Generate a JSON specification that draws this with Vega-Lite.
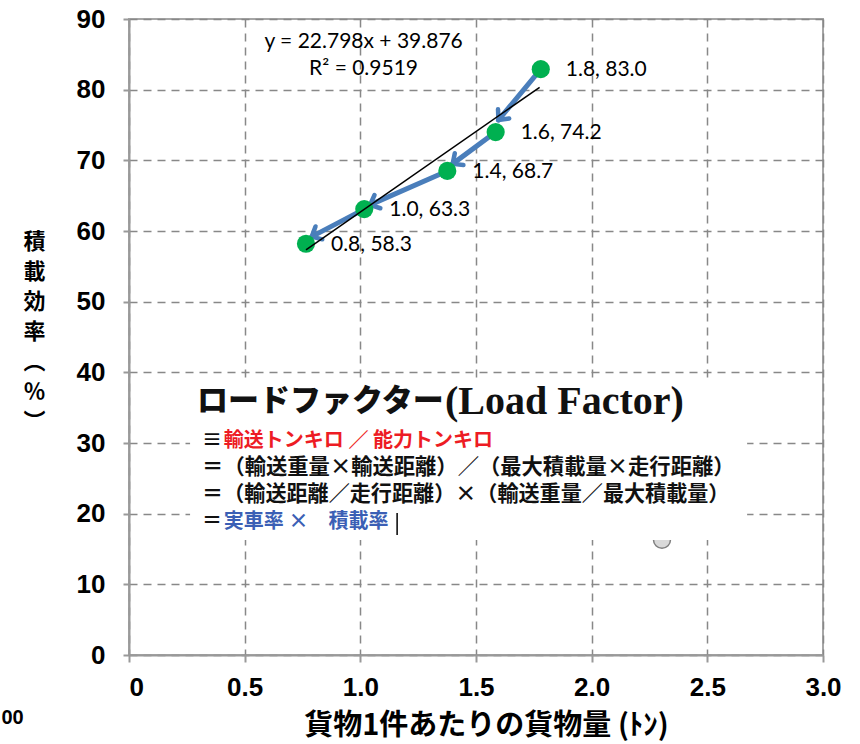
{
  "$schema": "https://vega.github.io/schema/vega-lite/v6.json",
  "width": 694,
  "height": 636,
  "autosize": {"type": "none"},
  "padding": {"left": 129, "top": 19, "right": 37, "bottom": 89},
  "background": "white",
  "config": {
    "view": {"stroke": "#a6a6a6", "strokeWidth": 2},
    "font": "Liberation Sans",
    "axis": {
      "labelFont": "Liberation Sans", "labelFontWeight": "bold", "labelFontSize": 26, "labelColor": "black",
      "tickColor": "#999999", "tickWidth": 2,
      "domainColor": "#999999", "domainWidth": 2,
      "grid": true, "gridDash": [8, 6], "gridColor": "#888888", "gridWidth": 1.5,
      "titleColor": "black", "titleFont": "Noto Sans CJK JP", "titleFontWeight": "bold"
    },
    "axisX": {"labelPadding": 12, "labelFlush": false, "tickSize": 7},
    "axisY": {"labelPadding": 18, "tickSize": 6}
  },
  "datasets": {
    "pts": [
      {"x": 1.78, "y": 82.9, "label": "1.8, 83.0"},
      {"x": 1.585, "y": 74.0, "label": "1.6, 74.2"},
      {"x": 1.376, "y": 68.5, "label": "1.4, 68.7"},
      {"x": 1.017, "y": 63.1, "label": "1.0, 63.3"},
      {"x": 0.765, "y": 58.2, "label": "0.8, 58.3"}
    ],
    "arrows": [
      {"x": 1.78, "y": 82.9, "x2": 1.597, "y2": 75.7},
      {"x": 1.585, "y": 74.0, "x2": 1.399, "y2": 69.5},
      {"x": 1.376, "y": 68.5, "x2": 1.042, "y2": 63.7},
      {"x": 1.017, "y": 63.1, "x2": 0.79, "y2": 59.2}
    ],
    "trend": [
      {"x": 0.765, "y": 57.32},
      {"x": 1.775, "y": 80.34}
    ],
    "marker": [
      {"x": 2.304, "y": 16.3}
    ],
    "one": [
      {"k": 1}
    ]
  },
  "layer": [
    {
      "data": {"name": "marker"},
      "mark": {"type": "point", "shape": "circle", "filled": true, "fill": "#d9d9d9", "stroke": "#7f7f7f", "strokeWidth": 1.5, "size": 289, "opacity": 1},
      "encoding": {
        "x": {
          "field": "x", "type": "quantitative",
          "scale": {"domain": [0, 3], "nice": false, "zero": false},
          "axis": {
            "title": "貨物1件あたりの貨物量 (ﾄﾝ)",
            "values": [0, 0.5, 1, 1.5, 2, 2.5, 3],
            "labelExpr": "datum.value == 0 ? '0' : format(datum.value, '.1f')",
            "labelAlign": {"condition": {"test": "datum.value == 0", "value": "left"}, "value": "center"},
            "titleFontSize": 29,
            "titleX": 357, "titleY": 70, "titleBaseline": "middle", "titleAlign": "center"
          }
        },
        "y": {
          "field": "y", "type": "quantitative",
          "scale": {"domain": [0, 90], "nice": false},
          "axis": {
            "title": ["積", "載", "効", "率", "︵", "％", "︶"],
            "titleAngle": 0, "titleLineHeight": 30, "titleFontSize": 22,
            "titleX": -95, "titleY": 212, "titleAlign": "center", "titleBaseline": "top",
            "values": [0, 10, 20, 30, 40, 50, 60, 70, 80, 90]
          }
        }
      }
    },
    {
      "data": {"name": "one"},
      "mark": {"type": "rect", "fill": "white"},
      "encoding": {
        "x": {"datum": 0.264, "type": "quantitative"},
        "x2": {"datum": 2.672},
        "y": {"datum": 16.27, "type": "quantitative"},
        "y2": {"datum": 38.77}
      }
    },
    {
      "data": {"name": "arrows"},
      "mark": {"type": "rule", "color": "#4A7EBB", "strokeWidth": 5, "strokeCap": "round"},
      "encoding": {
        "x": {"field": "x", "type": "quantitative"},
        "y": {"field": "y", "type": "quantitative"},
        "x2": {"field": "x2"},
        "y2": {"field": "y2"}
      }
    },
    {
      "data": {"name": "arrows"},
      "transform": [
        {"calculate": "atan2(-(datum.y2 - datum.y) * 7.067, (datum.x2 - datum.x) * 231.3) * 180 / PI", "as": "ang"}
      ],
      "mark": {"type": "point", "shape": "M -1 -0.9 L 0 0 L -1 0.9", "filled": false, "stroke": "#4A7EBB", "strokeWidth": 4.5, "strokeCap": "round", "strokeJoin": "round", "size": 260, "opacity": 1},
      "encoding": {
        "x": {"field": "x2", "type": "quantitative"},
        "y": {"field": "y2", "type": "quantitative"},
        "angle": {"field": "ang", "type": "quantitative", "scale": null}
      }
    },
    {
      "data": {"name": "pts"},
      "mark": {"type": "point", "shape": "circle", "filled": true, "color": "#00B050", "size": 330, "opacity": 1},
      "encoding": {
        "x": {"field": "x", "type": "quantitative"},
        "y": {"field": "y", "type": "quantitative"}
      }
    },
    {
      "data": {"name": "trend"},
      "mark": {"type": "line", "color": "black", "strokeWidth": 1.5},
      "encoding": {
        "x": {"field": "x", "type": "quantitative"},
        "y": {"field": "y", "type": "quantitative"}
      }
    },
    {
      "data": {"name": "pts"},
      "mark": {"type": "text", "align": "left", "baseline": "middle", "dx": 25, "dy": 1, "font": "Lato", "fontSize": 21, "color": "black"},
      "encoding": {
        "x": {"field": "x", "type": "quantitative"},
        "y": {"field": "y", "type": "quantitative"},
        "text": {"field": "label"}
      }
    },
    {
      "data": {"name": "one"},
      "mark": {"type": "text", "align": "center", "baseline": "middle", "font": "Lato", "fontSize": 21, "color": "black"},
      "encoding": {
        "x": {"datum": 1.014, "type": "quantitative"},
        "y": {"datum": 86.8, "type": "quantitative"},
        "text": {"value": "y = 22.798x + 39.876"}
      }
    },
    {
      "data": {"name": "one"},
      "mark": {"type": "text", "align": "center", "baseline": "middle", "font": "Lato", "fontSize": 21, "color": "black"},
      "encoding": {
        "x": {"datum": 1.014, "type": "quantitative"},
        "y": {"datum": 82.9, "type": "quantitative"},
        "text": {"value": "R² = 0.9519"}
      }
    },
    {
      "data": {"name": "one"},
      "mark": {"type": "text", "align": "left", "baseline": "middle", "font": "Noto Sans CJK JP", "fontWeight": 900, "fontSize": 31, "color": "#111111"},
      "encoding": {
        "x": {"datum": 0.294, "type": "quantitative"},
        "y": {"datum": 35.87, "type": "quantitative"},
        "text": {"value": "ロードファクター"}
      }
    },
    {
      "data": {"name": "one"},
      "mark": {"type": "text", "align": "left", "baseline": "alphabetic", "font": "Liberation Serif", "fontWeight": "bold", "fontSize": 40, "color": "#111111"},
      "encoding": {
        "x": {"datum": 1.366, "type": "quantitative"},
        "y": {"datum": 34.1, "type": "quantitative"},
        "text": {"value": "(Load Factor)"}
      }
    },
    {
      "data": {"name": "one"},
      "mark": {"type": "text", "align": "left", "baseline": "middle", "font": "Noto Sans CJK JP", "fontWeight": "bold", "fontSize": 20, "color": "#111111"},
      "encoding": {
        "x": {"datum": 0.316, "type": "quantitative"},
        "y": {"datum": 30.28, "type": "quantitative"},
        "text": {"value": "≡"}
      }
    },
    {
      "data": {"name": "one"},
      "mark": {"type": "text", "align": "left", "baseline": "middle", "font": "Noto Sans CJK JP", "fontWeight": "bold", "fontSize": 20, "color": "#ED1C24"},
      "encoding": {
        "x": {"datum": 0.41, "type": "quantitative"},
        "y": {"datum": 30.28, "type": "quantitative"},
        "text": {"value": "輸送トンキロ ／ 能力トンキロ"}
      }
    },
    {
      "data": {"name": "one"},
      "mark": {"type": "text", "align": "left", "baseline": "middle", "font": "Noto Sans CJK JP", "fontWeight": "bold", "fontSize": 21.3, "color": "#111111"},
      "encoding": {
        "x": {"datum": 0.316, "type": "quantitative"},
        "y": {"datum": 26.46, "type": "quantitative"},
        "text": {"value": "＝（輸送重量×輸送距離）／（最大積載量×走行距離）"}
      }
    },
    {
      "data": {"name": "one"},
      "mark": {"type": "text", "align": "left", "baseline": "middle", "font": "Noto Sans CJK JP", "fontWeight": "bold", "fontSize": 21.1, "color": "#111111"},
      "encoding": {
        "x": {"datum": 0.316, "type": "quantitative"},
        "y": {"datum": 22.64, "type": "quantitative"},
        "text": {"value": "＝（輸送距離／走行距離）×（輸送重量／最大積載量）"}
      }
    },
    {
      "data": {"name": "one"},
      "mark": {"type": "text", "align": "left", "baseline": "middle", "font": "Noto Sans CJK JP", "fontWeight": "bold", "fontSize": 20, "color": "#111111"},
      "encoding": {
        "x": {"datum": 0.316, "type": "quantitative"},
        "y": {"datum": 18.82, "type": "quantitative"},
        "text": {"value": "＝"}
      }
    },
    {
      "data": {"name": "one"},
      "mark": {"type": "text", "align": "left", "baseline": "middle", "font": "Noto Sans CJK JP", "fontWeight": "bold", "fontSize": 20, "color": "#3B5FB5"},
      "encoding": {
        "x": {"datum": 0.41, "type": "quantitative"},
        "y": {"datum": 18.82, "type": "quantitative"},
        "text": {"value": "実車率 ×　積載率"}
      }
    },
    {
      "data": {"name": "one"},
      "mark": {"type": "rule", "color": "black", "strokeWidth": 1.5},
      "encoding": {
        "x": {"datum": 1.159, "type": "quantitative"},
        "y": {"datum": 16.98, "type": "quantitative"},
        "y2": {"datum": 20.09}
      }
    },
    {
      "data": {"name": "one"},
      "mark": {"type": "text", "align": "right", "baseline": "middle", "font": "Liberation Sans", "fontWeight": "bold", "fontSize": 20, "color": "black"},
      "encoding": {
        "x": {"datum": -0.455, "type": "quantitative"},
        "y": {"datum": -8.91, "type": "quantitative"},
        "text": {"value": "00"}
      }
    }
  ]
}
